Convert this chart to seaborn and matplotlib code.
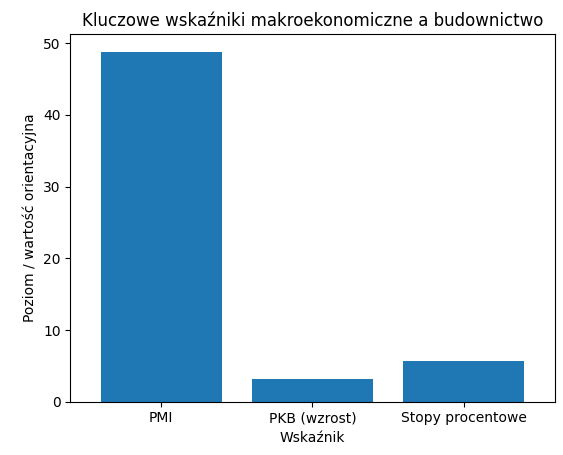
import matplotlib
matplotlib.use("Agg")
import matplotlib.pyplot as plt
import seaborn as sns
import pandas as pd

categories = ["PMI", "PKB (wzrost)", "Stopy procentowe"]
values = [48.8, 3.2, 5.75]

df = pd.DataFrame({"Wskaźnik": categories, "Wartość": values})

fig, ax = plt.subplots(figsize=(5.63, 4.55), dpi=100)
sns.barplot(data=df, x="Wskaźnik", y="Wartość", color="#1f77b4",
            saturation=1, width=0.8, ax=ax)
ax.set_title("Kluczowe wskaźniki makroekonomiczne a budownictwo")
ax.set_xlabel("Wskaźnik")
ax.set_ylabel("Poziom / wartość orientacyjna")
ax.set_xlim(-0.6, 2.6)
fig.subplots_adjust(left=0.125, right=0.985, top=0.925, bottom=0.117)
fig.savefig("out.png")
